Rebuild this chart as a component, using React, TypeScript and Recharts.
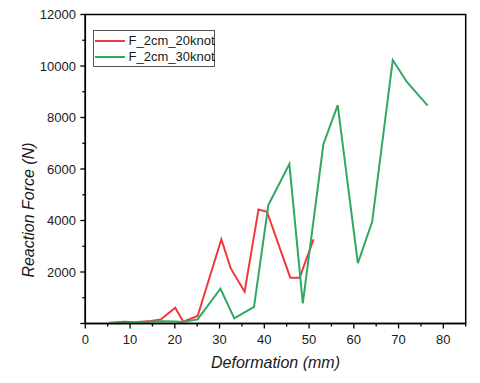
import React from "react";
import { LineChart, Line, XAxis, YAxis, ReferenceArea } from "recharts";

const redX = [5.4, 8.7, 11, 14.7, 16.9, 20.1, 21.9, 25.1, 30.4, 32.5, 35.6, 38.7, 40.6, 45.8, 47.9, 51.0];
const redY = [30, 70, 50, 100, 160, 614, 70, 290, 3270, 2140, 1235, 4430, 4340, 1780, 1780, 3270];
const greenX = [5.5, 9, 12, 14, 17, 20, 21.8, 25.1, 30.2, 33.3, 37.7, 40.9, 45.6, 48.6, 53.2, 56.4, 60.9, 64.1, 68.7, 71.9, 76.5];
const greenY = [0, 20, 40, 70, 90, 80, 60, 160, 1350, 200, 650, 4600, 6190, 780, 6960, 8480, 2340, 3950, 10230, 9370, 8460];
const xTicks = [0, 5, 10, 15, 20, 25, 30, 35, 40, 45, 50, 55, 60, 65, 70, 75, 80, 85];
const yTicks = [0, 1000, 2000, 3000, 4000, 5000, 6000, 7000, 8000, 9000, 10000, 11000, 12000];
const seriesNames = ["F_2cm_20knot", "F_2cm_30knot"];
const colors = ["#F0393C", "#30A862"];

const redData = redX.map((x, i) => ({ x, y: redY[i] }));
const greenData = greenX.map((x, i) => ({ x, y: greenY[i] }));

const FONT = "'Liberation Sans', Arial, sans-serif";

const XTick = (props: any) => {
  const { x, y, payload } = props;
  const v = payload.value;
  const major = v % 10 === 0;
  return (
    <g>
      <line x1={x} x2={x} y1={y} y2={y + (major ? 5 : 3)} stroke="#000" strokeWidth={1.3} />
      {major && v <= 80 ? (
        <text x={x} y={y + 20.5} textAnchor="middle" fontSize={13} fontFamily={FONT} fill="#1a1a1a">
          {v}
        </text>
      ) : null}
    </g>
  );
};

const YTick = (props: any) => {
  const { x, y, payload } = props;
  const v = payload.value;
  const major = v % 2000 === 0;
  return (
    <g>
      <line x1={x - (major ? 5 : 3)} x2={x} y1={y} y2={y} stroke="#000" strokeWidth={1.3} />
      {major && v > 0 ? (
        <text x={x - 9.3} y={y + 4.7} textAnchor="end" fontSize={13} fontFamily={FONT} fill="#1a1a1a">
          {v}
        </text>
      ) : null}
    </g>
  );
};

export default function App() {
  return (
    <div style={{ position: "absolute", left: 0, top: 0, width: 480, height: 383, background: "#fff" }}>
      <LineChart width={480} height={383} margin={{ top: 14.5, right: 14.3, bottom: 0, left: 0 }}>
        <XAxis
          dataKey="x"
          type="number"
          domain={[0, 85]}
          ticks={xTicks}
          interval={0}
          height={59.5}
          tickSize={0}
          tickMargin={0}
          tickLine={false}
          tick={<XTick />}
          axisLine={{ stroke: "#000", strokeWidth: 1.5 }}
          label={{
            content: (p: any) => {
              const vb = p.viewBox;
              return (
                <text x={vb.x + vb.width / 2} y={vb.y + 44} textAnchor="middle" fontSize={16} fontStyle="italic" fontFamily={FONT} fill="#1a1a1a">
                  Deformation (mm)
                </text>
              );
            },
          }}
        />
        <YAxis
          type="number"
          domain={[0, 12000]}
          ticks={yTicks}
          interval={0}
          width={85.3}
          tickSize={0}
          tickMargin={0}
          tickLine={false}
          tick={<YTick />}
          axisLine={{ stroke: "#000", strokeWidth: 1.5 }}
          label={{
            content: (p: any) => {
              const vb = p.viewBox;
              const cx = 33.5;
              const cy = 210;
              return (
                <text x={cx} y={cy} transform={`rotate(-90 ${cx} ${cy})`} textAnchor="middle" fontSize={16} fontStyle="italic" fontFamily={FONT} fill="#1a1a1a">
                  Reaction Force (N)
                </text>
              );
            },
          }}
        />
        <ReferenceArea x1={0} x2={85} y1={0} y2={12000} fill="none" stroke="#000" strokeWidth={1.5} fillOpacity={0} />
        <Line data={redData} dataKey="y" stroke={colors[0]} strokeWidth={2} dot={false} isAnimationActive={false} />
        <Line data={greenData} dataKey="y" stroke={colors[1]} strokeWidth={2} dot={false} isAnimationActive={false} />
      </LineChart>
      <div
        style={{
          position: "absolute",
          left: 92.5,
          top: 29.5,
          width: 122,
          height: 37,
          border: "1px solid #555",
          boxSizing: "border-box",
          background: "#fff",
        }}
      >
        {seriesNames.map((n, i) => (
          <div key={n} style={{ position: "absolute", left: 1, top: 2 + i * 16.5, height: 15, width: 120 }}>
            <div style={{ position: "absolute", left: 0, top: 7, width: 30, height: 2, background: colors[i] }} />
            <div style={{ position: "absolute", left: 34, top: 0, fontSize: 13, lineHeight: "15px", fontFamily: FONT, color: "#1a1a1a", whiteSpace: "nowrap" }}>
              {n}
            </div>
          </div>
        ))}
      </div>
    </div>
  );
}
